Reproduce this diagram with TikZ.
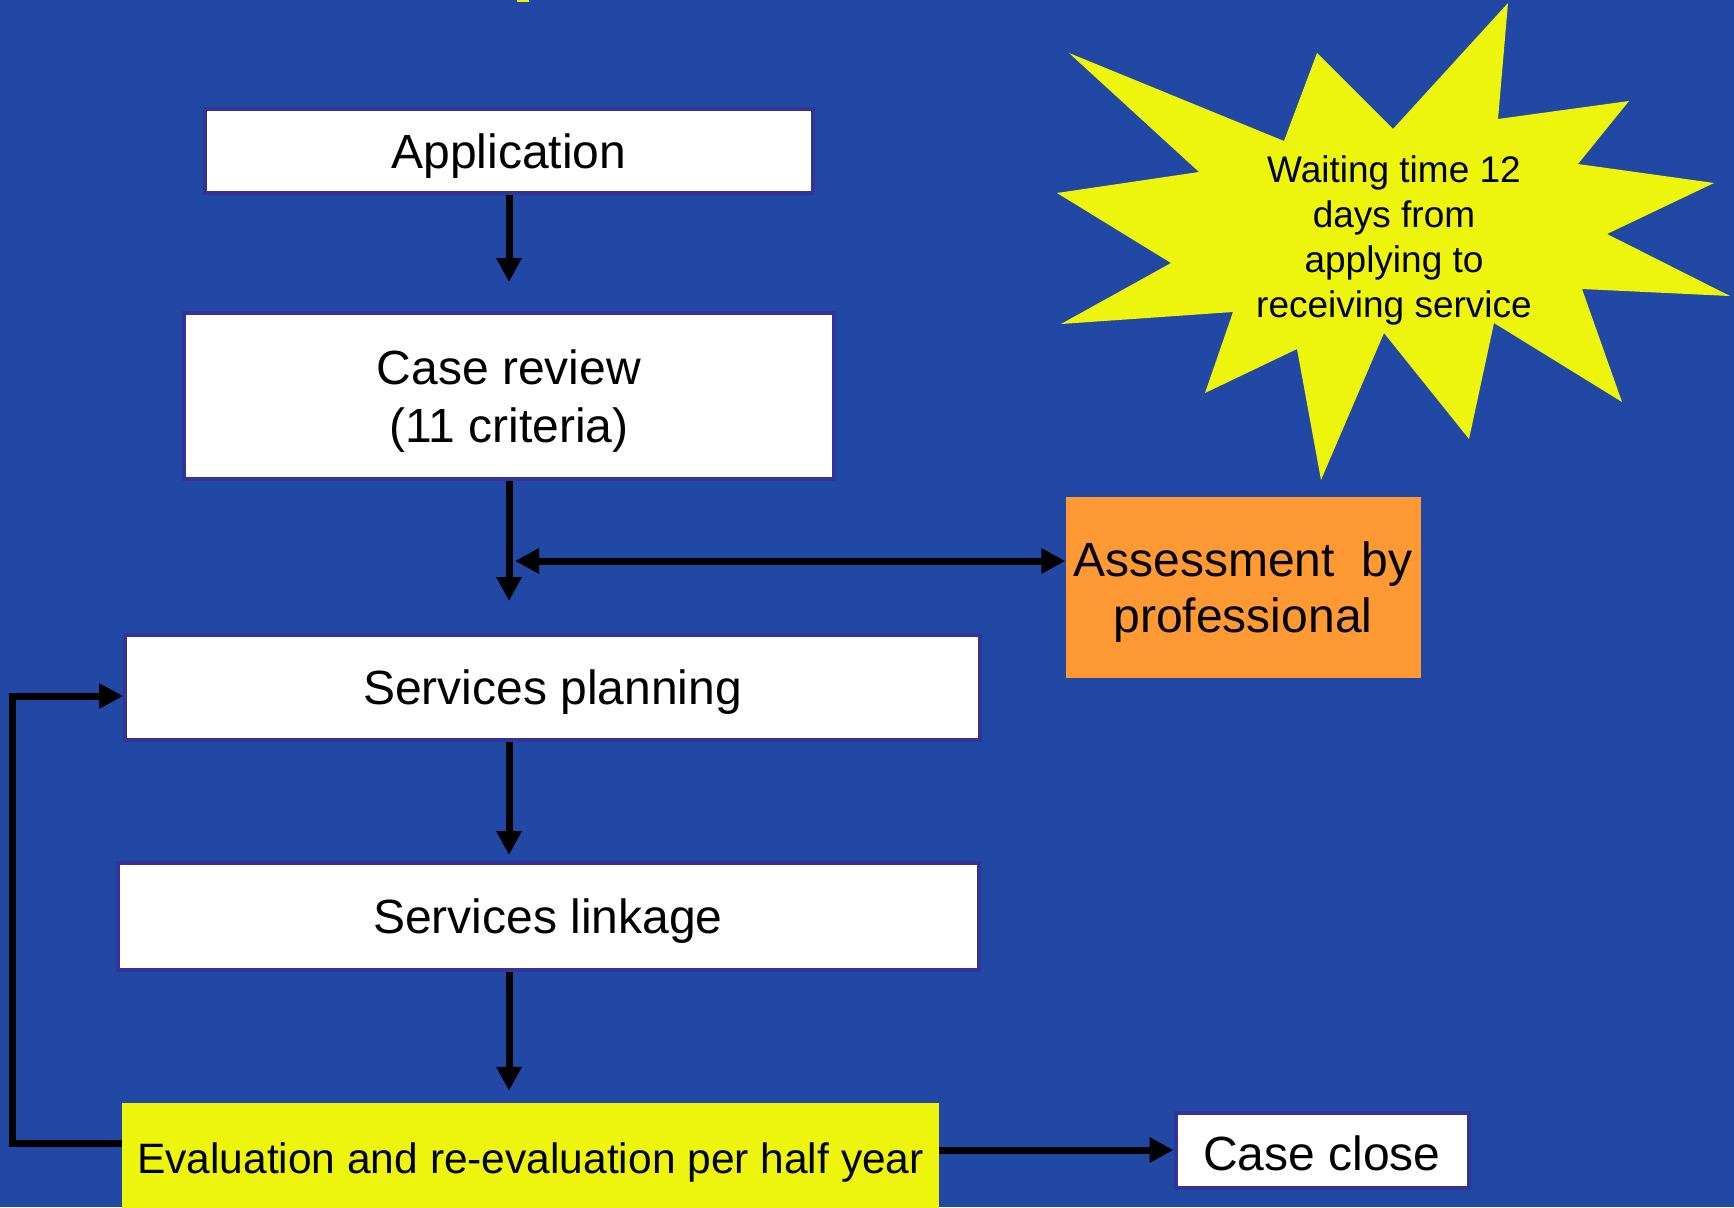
\documentclass[tikz,border=0pt]{standalone}
\usepackage{fontspec}
\setmainfont{Liberation Sans}
\usetikzlibrary{arrows.meta}
\definecolor{bg}{RGB}{34,72,166}
\definecolor{bordc}{RGB}{51,51,153}
\definecolor{yel}{RGB}{238,245,12}
\definecolor{orng}{RGB}{255,153,51}
\begin{document}
\begin{tikzpicture}[x=1pt,y=-1pt,
  box/.style={draw=bordc, line width=4pt, fill=white, inner sep=0pt, align=center, text depth=0pt, font=\fontsize{48}{58}\selectfont},
  arr/.style={line width=7pt, -{Triangle[length=24pt,width=24pt]}},
  darr/.style={line width=7pt, {Triangle[length=24pt,width=24pt]}-{Triangle[length=24pt,width=24pt]}}]
\useasboundingbox (0,0) rectangle (1734,1207);
\fill[bg] (0,0) rectangle (1734,1207);
\fill[yel] (517,0) rectangle (529,2.5);
% starburst
\fill[yel] (1508,3) -- (1498,119) -- (1629,101) -- (1578,164) -- (1714,183) -- (1607,234) -- (1730,296) -- (1582,289) -- (1622,402) -- (1494,323) -- (1469,439) -- (1384,333) -- (1321,480) -- (1297,349) -- (1205,393) -- (1233,312) -- (1061,324) -- (1171,263) -- (1057,193) -- (1199,172) -- (1069,53) -- (1284,141) -- (1317,53) -- (1393,129) -- cycle;
\node[font=\fontsize{37}{45}\selectfont, align=center, inner sep=0pt] (wait) at (1394,240) {Waiting time 12\\days from\\applying to\\receiving service};
% boxes
\node[box, minimum width=608pt, minimum height=84pt] (app) at (509,151) {Application};
\node[box, minimum width=650pt, minimum height=166pt] (review) at (509,396) {Case review\\(11 criteria)};
\node[box, minimum width=855pt, minimum height=105pt] (plan) at (552.5,687.5) {Services planning};
\node[box, minimum width=861pt, minimum height=107pt] (link) at (548,916) {Services linkage};
\node[fill=yel, inner sep=0pt, text depth=4pt, minimum width=817pt, minimum height=114pt, font=\fontsize{42.5}{50}\selectfont] (eval) at (530.5,1160) {Evaluation and re-evaluation per half year};
\node[box, minimum width=293pt, minimum height=75pt, text height=41pt] (close) at (1322,1150) {Case close};
\node[fill=orng, inner sep=0pt, text depth=0pt, minimum width=355pt, minimum height=181pt, align=center, font=\fontsize{48}{56}\selectfont] (assess) at (1243,587) {Assessment \ by\\professional};
% connectors
\coordinate (j) at (509,561);
\coordinate (lb) at (12,1143);
\coordinate (lt) at (12,696);
\draw[arr, shorten >=29pt] (app.south) -- (review.north);
\draw[arr, shorten >=32pt] (review.south) -- (plan.north -| review.south);
\draw[darr] ([xshift=6pt]j) -- (assess.west |- j);
\draw[arr, shorten >=5.5pt] (plan.south -| app.south) -- (link.north -| app.south);
\draw[arr, shorten >=12pt] (link.south -| app.south) -- (eval.north -| app.south);
\draw[arr] (eval.east |- close) -- (close.west);
\draw[arr] (eval.west |- lb) -- (lb) -- (lt) -- (plan.west |- lt);
\end{tikzpicture}
\end{document}
